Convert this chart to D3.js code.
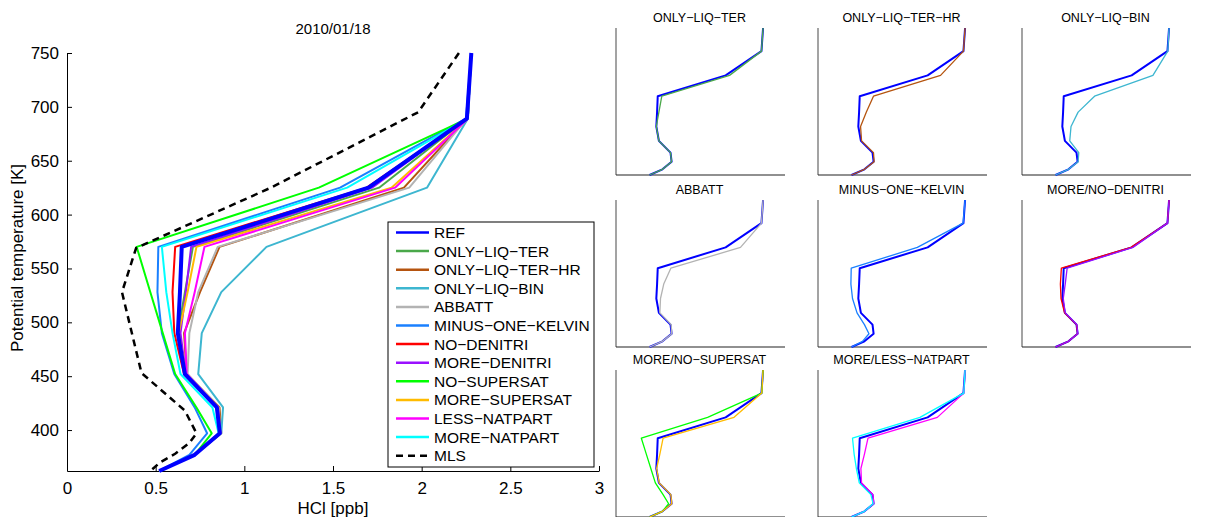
<!DOCTYPE html>
<html>
<head>
<meta charset="utf-8">
<script src="https://cdn.jsdelivr.net/npm/d3@7"></script>
<style>
  body { margin: 0; background: #fff; }
  text { font-family: "Liberation Sans", Arial, sans-serif; fill: #000; }
</style>
</head>
<body>
<div id="chart"></div>
<script>
// potential temperature levels [K] of the model profiles
const levels = [750, 689, 625, 570, 528, 490, 452, 421, 397, 377, 362];

// HCl [ppb] per run
const ref            = [2.28, 2.255, 1.70, 0.647, 0.637, 0.625, 0.665, 0.845, 0.862, 0.72, 0.52];
const onlyLiqTer     = [2.28, 2.255, 1.76, 0.71, 0.665, 0.625, 0.665, 0.845, 0.862, 0.72, 0.52];
const onlyLiqTerHr   = [2.28, 2.255, 1.90, 0.86, 0.75, 0.66, 0.675, 0.86, 0.87, 0.72, 0.52];
const onlyLiqBin     = [2.28, 2.26, 2.03, 1.125, 0.87, 0.76, 0.74, 0.88, 0.87, 0.72, 0.52];
const abbatt         = [2.28, 2.255, 1.93, 0.85, 0.74, 0.69, 0.68, 0.855, 0.865, 0.72, 0.52];
const minusOneKelvin = [2.28, 2.25, 1.54, 0.515, 0.51, 0.535, 0.605, 0.72, 0.79, 0.69, 0.52];
const noDenitri      = [2.28, 2.255, 1.69, 0.61, 0.595, 0.605, 0.66, 0.845, 0.862, 0.72, 0.52];
const moreDenitri    = [2.28, 2.255, 1.72, 0.70, 0.67, 0.64, 0.67, 0.85, 0.865, 0.72, 0.52];
const noSupersat     = [2.28, 2.26, 1.42, 0.393, 0.47, 0.54, 0.61, 0.73, 0.816, 0.72, 0.52];
const moreSupersat   = [2.28, 2.26, 1.83, 0.73, 0.68, 0.63, 0.67, 0.85, 0.865, 0.72, 0.52];
const lessNatpart    = [2.28, 2.26, 1.85, 0.775, 0.72, 0.665, 0.675, 0.85, 0.865, 0.72, 0.52];
const moreNatpart    = [2.28, 2.26, 1.58, 0.535, 0.56, 0.595, 0.64, 0.82, 0.855, 0.72, 0.52];

// MLS observation
const mlsLevels = [750, 695, 625, 569, 528, 453, 418, 397, 388, 378, 370, 362];
const mlsValues = [2.21, 1.98, 1.15, 0.39, 0.31, 0.42, 0.665, 0.73, 0.69, 0.61, 0.525, 0.47];

const seriesNames = ["REF", "ONLY−LIQ−TER", "ONLY−LIQ−TER−HR", "ONLY−LIQ−BIN", "ABBATT",
  "MINUS−ONE−KELVIN", "NO−DENITRI", "MORE−DENITRI", "NO−SUPERSAT", "MORE−SUPERSAT",
  "LESS−NATPART", "MORE−NATPART"];
const seriesValues = [ref, onlyLiqTer, onlyLiqTerHr, onlyLiqBin, abbatt, minusOneKelvin,
  noDenitri, moreDenitri, noSupersat, moreSupersat, lessNatpart, moreNatpart];
const seriesColors = ["#0000ff", "#4aa84a", "#b5540f", "#3db6d0", "#b3b3b3", "#1a80ff",
  "#ff0000", "#9a10ff", "#00ff00", "#ffbb00", "#ff00ff", "#00ffff"];

const xTicks = [0, 0.5, 1, 1.5, 2, 2.5, 3];
const yTicks = [400, 450, 500, 550, 600, 650, 700, 750];

// small panels: title + indices of the runs compared to REF
const panelTitles = ["ONLY−LIQ−TER", "ONLY−LIQ−TER−HR", "ONLY−LIQ−BIN", "ABBATT",
  "MINUS−ONE−KELVIN", "MORE/NO−DENITRI", "MORE/NO−SUPERSAT", "MORE/LESS−NATPART"];
const panelSeries = [[1], [2], [3], [4], [5], [6, 7], [8, 9], [10, 11]];

const W = 1208, H = 517;
const svg = d3.select("#chart").append("svg")
  .attr("width", W).attr("height", H);

//----- main plot
const margin = { top: 53, left: 67 };
const width = 532, height = 418;

const xScale = d3.scaleLinear().domain([0, 3]).range([0, width]);
const yScale = d3.scaleLinear().domain([362, 750]).range([height, 0]);

const g = svg.append("g")
  .attr("transform", "translate(" + margin.left + "," + margin.top + ")");

const xAxis = d3.axisBottom(xScale).tickValues(xTicks)
  .tickFormat(d3.format("")).tickSizeInner(-5).tickSizeOuter(0).tickPadding(11);
const yAxis = d3.axisLeft(yScale).tickValues(yTicks)
  .tickSizeInner(-5).tickSizeOuter(0).tickPadding(8);

g.append("g").attr("transform", "translate(0," + height + ")").call(xAxis);
g.append("g").call(yAxis);
g.selectAll(".tick text").style("font-size", "17px");
g.selectAll(".domain, .tick line").attr("stroke", "#000");

const line = d3.line()
  .x(d => xScale(d[1]))
  .y(d => yScale(d[0]));

// other runs first, REF on top
const order = d3.range(1, seriesValues.length).concat([0]);
order.forEach(i => {
  g.append("path")
    .datum(levels.map((l, k) => [l, seriesValues[i][k]]))
    .attr("fill", "none")
    .attr("stroke", seriesColors[i])
    .attr("stroke-width", i === 0 ? 4 : 2)
    .attr("stroke-linejoin", "round")
    .attr("d", line);
});

g.append("path")
  .datum(mlsLevels.map((l, k) => [l, mlsValues[k]]))
  .attr("fill", "none")
  .attr("stroke", "#000")
  .attr("stroke-width", 2.5)
  .attr("stroke-dasharray", "7,5")
  .attr("d", line);

// labels
g.append("text")
  .attr("x", width / 2).attr("y", -19)
  .attr("text-anchor", "middle").style("font-size", "15px")
  .text("2010/01/18");
g.append("text")
  .attr("x", width / 2).attr("y", height + 43)
  .attr("text-anchor", "middle").style("font-size", "17px")
  .text("HCl [ppb]");
g.append("text")
  .attr("transform", "translate(" + -44 + "," + (height / 2 - 4) + ") rotate(-90)")
  .attr("text-anchor", "middle").style("font-size", "17px")
  .text("Potential temperature [K]");

// legend
const legend = svg.append("g").attr("transform", "translate(388,222)");
legend.append("rect")
  .attr("width", 206).attr("height", 245)
  .attr("fill", "#fff").attr("stroke", "#000").attr("stroke-width", 1);
const legNames = seriesNames.concat(["MLS"]);
legNames.forEach((name, i) => {
  const yy = 10.5 + i * 18.6;
  legend.append("line")
    .attr("x1", 8).attr("x2", 41).attr("y1", yy).attr("y2", yy)
    .attr("stroke", i < seriesColors.length ? seriesColors[i] : "#000")
    .attr("stroke-width", 2.5)
    .attr("stroke-dasharray", i < seriesColors.length ? null : "7,5");
  legend.append("text")
    .attr("x", 46).attr("y", yy).attr("dy", "0.36em")
    .style("font-size", "15.5px")
    .text(name);
});

//----- small panels
const pW = 169, pH = 147;
const colX = [616, 818, 1022];
const rowY = [28, 200, 370];
const px = d3.scaleLinear().domain([0, 2.62]).range([0, pW]);
const py = d3.scaleLinear().domain([362, 750]).range([pH, 0]);
const pLine = d3.line().x(d => px(d[1])).y(d => py(d[0]));

panelTitles.forEach((title, p) => {
  const pg = svg.append("g")
    .attr("transform", "translate(" + colX[p % 3] + "," + rowY[Math.floor(p / 3)] + ")");
  pg.append("line").attr("x1", 0).attr("x2", 0).attr("y1", 0).attr("y2", pH)
    .attr("stroke", "#666").attr("stroke-width", 1.2);
  pg.append("line").attr("x1", 0).attr("x2", pW).attr("y1", pH).attr("y2", pH)
    .attr("stroke", "#222").attr("stroke-width", 1.2);
  pg.append("text")
    .attr("x", pW / 2 - 1).attr("y", -6)
    .attr("text-anchor", "middle").style("font-size", "12.5px")
    .text(title);

  [0].concat(panelSeries[p]).forEach(i => {
    pg.append("path")
      .datum(levels.map((l, k) => [l, seriesValues[i][k]]))
      .attr("fill", "none")
      .attr("stroke", seriesColors[i])
      .attr("stroke-width", i === 0 ? 2 : 1.3)
      .attr("stroke-linejoin", "round")
      .attr("d", pLine);
  });
});
</script>
</body>
</html>
